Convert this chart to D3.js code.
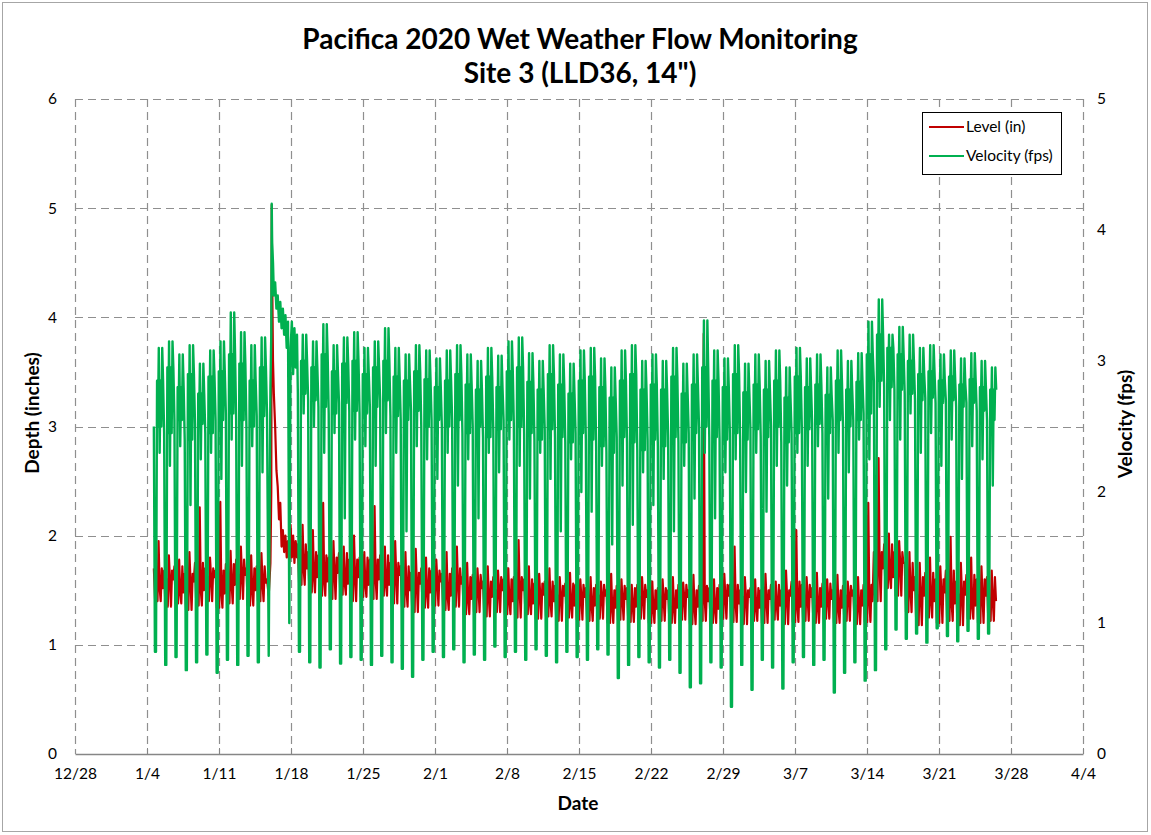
<!DOCTYPE html>
<html>
<head>
<meta charset="utf-8">
<script src="https://cdn.jsdelivr.net/npm/d3@7"></script>
<style>
  body { margin: 0; background: #fff; }
  svg text { font-family: Lato, "Open Sans", sans-serif; fill: #000; }
</style>
</head>
<body>
<svg id="chart" width="1151" height="835"></svg>
<script>
// readings are grouped per day; day d starts at 1/4 16:00 + d days
// each day gives a few typical readings (plateau, peaks, night dip)
const seriesStart = new Date(2020, 0, 4, 16)
const nDays = 82
const stormDay = 11   // 1/15 16:00 .. 1/18 16:00 is read hour by hour below

// velocity (fps)
const velPeak = [3.10, 3.15, 3.05, 3.12, 2.98, 3.08, 3.15, 3.37, 3.22, 3.12, 3.18,
  null, null, null,
  3.20, 3.15, 3.28, 3.12, 3.18, 3.22, 3.10,
  3.15, 3.25, 3.10, 3.05, 3.12, 3.08, 3.02,
  3.08, 3.12, 3.05, 3.00, 3.10, 3.04, 3.15,
  3.18, 3.06, 3.00, 3.12, 3.05, 2.98, 3.08,
  3.10, 3.02, 2.95, 3.08, 3.12, 3.00, 3.05,
  3.00, 3.10, 2.98, 3.05, 3.31, 3.08, 3.02,
  3.12, 2.98, 3.05, 3.00, 3.08, 2.95, 3.10,
  3.02, 3.05, 2.95, 3.08, 3.00, 3.06, 3.30,
  3.47, 3.20, 3.26, 3.20, 3.10, 3.12, 3.05,
  3.08, 3.02, 3.06, 3.00, 2.95]
const velHi2 = [2.85, 2.95, 2.80, 2.90, 2.75, 2.88, 2.92, 3.05, 2.98, 2.85, 2.95,
  null, null, null,
  3.00, 2.95, 3.05, 2.92, 2.98, 3.00, 2.90,
  2.95, 3.00, 2.88, 2.85, 2.92, 2.86, 2.80,
  2.85, 2.90, 2.82, 2.78, 2.88, 2.80, 2.92,
  2.95, 2.84, 2.78, 2.90, 2.82, 2.75, 2.85,
  2.88, 2.80, 2.72, 2.85, 2.90, 2.78, 2.82,
  2.78, 2.88, 2.75, 2.82, 2.95, 2.85, 2.80,
  2.90, 2.76, 2.82, 2.78, 2.85, 2.72, 2.88,
  2.80, 2.82, 2.74, 2.85, 2.78, 2.84, 3.05,
  3.20, 3.10, 3.05, 3.00, 2.90, 2.92, 2.85,
  2.88, 2.82, 2.86, 2.80, 2.78]
const velLow = [2.50, 2.45, 2.55, 2.40, 2.52, 2.45, 2.55, 2.60, 2.55, 2.50, 2.58,
  null, null, null,
  2.75, 2.70, 2.65, 2.60, 2.68, 2.62, 2.60,
  2.65, 2.70, 2.58, 2.55, 2.62, 2.50, 2.55,
  2.50, 2.55, 2.45, 2.50, 2.42, 2.48, 2.55,
  2.50, 2.45, 2.40, 2.48, 2.42, 2.38, 2.45,
  2.40, 2.35, 2.30, 2.42, 2.38, 2.32, 2.40,
  2.35, 2.42, 2.38, 2.45, 2.50, 2.42, 2.40,
  2.45, 2.40, 2.48, 2.42, 2.50, 2.38, 2.45,
  2.48, 2.52, 2.45, 2.55, 2.50, 2.55, 2.60,
  2.85, 2.80, 2.78, 2.75, 2.70, 2.72, 2.68,
  2.70, 2.65, 2.68, 2.62, 2.55]
const velSag = [2.30, 2.20, 2.35, 1.90, 2.25, 2.30, 2.10, 2.40, 2.20, 2.35, 2.15,
  null, null, null,
  2.60, 2.50, 2.30, 2.45, 1.80, 2.40, 2.35,
  2.20, 2.45, 2.30, 1.70, 2.35, 2.25, 2.10,
  2.30, 2.05, 2.25, 1.80, 2.30, 2.15, 2.40,
  2.20, 1.95, 2.30, 2.10, 1.70, 2.25, 2.00,
  1.85, 2.20, 1.60, 2.05, 1.75, 2.15, 1.90,
  2.10, 1.70, 2.20, 1.95, 2.30, 1.80, 2.15,
  2.25, 2.00, 2.30, 1.85, 2.20, 2.05, 2.30,
  2.20, 2.35, 1.95, 2.30, 2.15, 2.40, 2.25,
  2.65, 2.55, 2.40, 2.60, 2.30, 2.45, 2.20,
  2.40, 2.10, 2.35, 2.25, 2.05]
const velDip = [0.78, 0.68, 0.74, 0.64, 0.70, 0.76, 0.62, 0.72, 0.68, 0.75, 0.70,
  null, null, null,
  0.78, 0.70, 0.66, 0.80, 0.69, 0.74, 0.72,
  0.68, 0.75, 0.70, 0.65, 0.59, 0.72, 0.78,
  0.74, 0.80, 0.70, 0.76, 0.72, 0.82, 0.74,
  0.78, 0.72, 0.80, 0.75, 0.70, 0.78, 0.74,
  0.72, 0.80, 0.76, 0.58, 0.68, 0.74, 0.70,
  0.66, 0.72, 0.62, 0.51, 0.54, 0.70, 0.66,
  0.36, 0.68, 0.49, 0.72, 0.66, 0.50, 0.70,
  0.74, 0.68, 0.72, 0.47, 0.62, 0.70, 0.56,
  0.64, 0.80, 0.95, 0.88, 0.92, 0.85, 0.96,
  0.90, 0.86, 0.94, 0.88, 0.92]

// level (in)
const lvlLow = [1.40, 1.35, 1.38, 1.32, 1.36, 1.40, 1.34, 1.38, 1.42, 1.36, 1.40,
  null, null, null,
  1.55, 1.48, 1.45, 1.42, 1.46, 1.40, 1.44,
  1.42, 1.45, 1.38, 1.35, 1.30, 1.34, 1.36,
  1.32, 1.35, 1.28, 1.30, 1.26, 1.30, 1.28,
  1.25, 1.28, 1.24, 1.26, 1.22, 1.25, 1.23,
  1.22, 1.24, 1.20, 1.23, 1.21, 1.24, 1.20,
  1.22, 1.20, 1.23, 1.19, 1.22, 1.20, 1.24,
  1.21, 1.19, 1.22, 1.20, 1.23, 1.19, 1.21,
  1.22, 1.20, 1.24, 1.20, 1.22, 1.19, 1.21,
  1.40, 1.52, 1.45, 1.30, 1.18, 1.25, 1.20,
  1.22, 1.18, 1.24, 1.20, 1.22]
const lvlSec = [1.52, 1.60, 1.48, 1.58, 1.50, 1.62, 1.47, 1.55, 1.64, 1.50, 1.57,
  null, null, null,
  1.70, 1.62, 1.58, 1.66, 1.56, 1.62, 1.55,
  1.60, 1.55, 1.64, 1.50, 1.56, 1.48, 1.58,
  1.45, 1.56, 1.42, 1.52, 1.44, 1.50, 1.40,
  1.50, 1.38, 1.46, 1.40, 1.45, 1.36, 1.44,
  1.36, 1.45, 1.34, 1.42, 1.35, 1.44, 1.33,
  1.42, 1.34, 1.44, 1.35, 1.40, 1.33, 1.45,
  1.38, 1.44, 1.34, 1.42, 1.36, 1.45, 1.35,
  1.44, 1.35, 1.42, 1.34, 1.45, 1.36, 1.40,
  1.70, 1.62, 1.75, 1.50, 1.45, 1.40, 1.48,
  1.38, 1.46, 1.36, 1.45, 1.40]
const lvlMid = [1.70, 1.68, 1.72, 1.65, 1.75, 1.70, 1.68, 1.74, 1.78, 1.70, 1.72,
  null, null, null,
  1.92, 1.85, 1.82, 1.80, 1.84, 1.78, 1.80,
  1.78, 1.82, 1.75, 1.72, 1.66, 1.70, 1.68,
  1.65, 1.70, 1.62, 1.64, 1.58, 1.62, 1.60,
  1.62, 1.60, 1.56, 1.58, 1.54, 1.56, 1.55,
  1.52, 1.55, 1.50, 1.54, 1.52, 1.55, 1.50,
  1.52, 1.50, 1.55, 1.50, 1.54, 1.52, 1.55,
  1.55, 1.50, 1.52, 1.50, 1.55, 1.50, 1.58,
  1.55, 1.52, 1.56, 1.50, 1.54, 1.50, 1.55,
  1.85, 1.92, 1.85, 1.75, 1.62, 1.66, 1.60,
  1.68, 1.58, 1.64, 1.60, 1.62]
const lvlPeak = [1.95, 1.82, 1.78, 1.85, 2.26, 1.80, 2.31, 1.86, 1.90, 1.82, 1.84,
  null, null, null,
  2.10, 2.05, 2.30, 1.95, 1.90, 2.00, 1.85,
  2.27, 1.90, 1.95, 1.85, 1.88, 1.80, 1.78,
  1.85, 1.90, 1.75, 1.70, 1.72, 1.68, 1.70,
  1.96, 1.72, 1.65, 1.70, 1.62, 1.66, 1.60,
  1.62, 1.58, 1.65, 1.60, 1.55, 1.62, 1.58,
  1.60, 1.62, 1.57, 1.64, 3.85, 1.60, 1.65,
  1.90, 1.62, 1.60, 1.65, 1.58, 1.68, 2.05,
  1.62, 1.66, 1.60, 1.64, 1.58, 1.62, 2.30,
  2.71, 2.02, 1.95, 1.85, 1.75, 1.80, 1.72,
  1.99, 1.75, 1.80, 1.72, 1.68]

// storm of 1/16: [hours after 1/15 16:00, value]
const stormLevel = [[0, 1.60], [4, 1.45], [8, 1.75], [10, 2.40], [11, 5.03], [12, 4.40], [14, 3.60],
  [16, 3.30], [19, 3.00], [22, 2.60], [25, 2.45], [28, 2.15], [31, 2.30], [34, 1.90], [37, 2.05],
  [40, 1.85], [43, 2.00], [46, 1.80], [49, 1.95], [52, 1.75], [55, 2.10], [58, 1.80], [61, 2.00],
  [64, 1.75], [67, 1.95], [70, 1.80]]
const stormVelocity = [[0, 2.60], [4, 0.75], [8, 2.80], [10, 3.20], [11, 4.20], [12, 3.90], [14, 3.75],
  [16, 3.50], [19, 3.60], [22, 3.40], [25, 3.50], [28, 3.30], [31, 3.45], [34, 3.25], [37, 3.40],
  [40, 3.20], [43, 3.35], [46, 3.10], [49, 3.30], [52, 1.00], [55, 3.10], [58, 3.30], [61, 2.90],
  [64, 3.25], [67, 2.95], [70, 3.20]]

// hour within each day at which each reading was taken
const velPattern = [[0, velLow], [2.5, velDip], [5, velDip], [7.5, velHi2], [9.5, velLow], [11.5, velPeak],
  [13.5, velSag], [15.5, velHi2], [17.5, velLow], [19.5, velPeak], [21.5, velHi2]]
const lvlPattern = [[0, lvlMid], [3, lvlLow], [6, lvlSec], [8.5, lvlLow], [11, lvlPeak],
  [13.5, lvlSec], [16, lvlLow], [18.5, lvlMid], [21, lvlSec]]

const depthTicks = [0, 1, 2, 3, 4, 5, 6]
const velTicks = [0, 1, 2, 3, 4, 5]

const HOUR = 3600 * 1000
function readings(pattern, storm) {
    let pts = []
    for (let d = 0; d < nDays; d++) {
        if (d === stormDay) {
            storm.forEach(([h, v]) => pts.push({t: new Date(+seriesStart + (d * 24 + h) * HOUR), v: v}))
        }
        if (pattern[0][1][d] == null) continue
        pattern.forEach(([h, arr]) => pts.push({t: new Date(+seriesStart + (d * 24 + h) * HOUR), v: arr[d]}))
    }
    return pts
}
const levelData = readings(lvlPattern, stormLevel)
const velocityData = readings(velPattern, stormVelocity)

const svg = d3.select("#chart")
const plotL = 75, plotR = 1083, plotT = 99, plotB = 754

// outer frame
svg.append("rect")
   .attr("x", 2.5).attr("y", 2.5)
   .attr("width", 1145).attr("height", 829)
   .attr("fill", "#fff")
   .attr("stroke", "#a6a6a6")

const x = d3.scaleTime()
            .domain([new Date(2019, 11, 28), new Date(2020, 3, 4)])
            .range([plotL, plotR])
const yL = d3.scaleLinear().domain([0, 6]).range([plotB, plotT])
const yR = d3.scaleLinear().domain([0, 5]).range([plotB, plotT])

const dateTicks = x.ticks(d3.timeSaturday.every(1))
const fmt = d3.timeFormat("%-m/%-d")

// grid
const grid = svg.append("g").attr("stroke", "#8f8f8f").attr("stroke-width", 1.2)
                .attr("stroke-dasharray", "8,5")
grid.selectAll(".h")
    .data(depthTicks.slice(1))
    .enter().append("line")
    .attr("x1", plotL).attr("x2", plotR)
    .attr("y1", d => Math.round(yL(d)) + 0.5).attr("y2", d => Math.round(yL(d)) + 0.5)
grid.selectAll(".v")
    .data(dateTicks)
    .enter().append("line")
    .attr("x1", d => Math.round(x(d)) + 0.5).attr("x2", d => Math.round(x(d)) + 0.5)
    .attr("y1", plotT).attr("y2", plotB)

// bottom axis
const xAxis = svg.append("g").attr("transform", `translate(0,${plotB})`)
                 .call(d3.axisBottom(x).tickValues(dateTicks).tickFormat(fmt).tickSizeInner(-6).tickSizeOuter(0).tickPadding(14))
xAxis.select(".domain").attr("stroke", "#868686").attr("stroke-width", 1.5)
xAxis.selectAll(".tick line").attr("stroke", "#868686")
xAxis.selectAll("text").style("font-size", "15.5px")
xAxis.selectAll(".tick").filter((d, i) => i === 0).select("line").remove()

// y axes (labels only)
const yAxisL = svg.append("g").attr("transform", `translate(${plotL},0)`)
                  .call(d3.axisLeft(yL).tickValues(depthTicks).tickFormat(d3.format("d")).tickSize(0).tickPadding(18))
yAxisL.select(".domain").remove()
yAxisL.selectAll("text").style("font-size", "15.5px")
const yAxisR = svg.append("g").attr("transform", `translate(${plotR},0)`)
                  .call(d3.axisRight(yR).tickValues(velTicks).tickFormat(d3.format("d")).tickSize(0).tickPadding(14))
yAxisR.select(".domain").remove()
yAxisR.selectAll("text").style("font-size", "15.5px")

// series
svg.append("path")
   .datum(levelData)
   .attr("fill", "none")
   .attr("stroke", "#C00000")
   .attr("stroke-width", 2.2)
   .attr("stroke-linejoin", "round")
   .attr("d", d3.line().x(d => x(d.t)).y(d => yL(d.v)))
svg.append("path")
   .datum(velocityData)
   .attr("fill", "none")
   .attr("stroke", "#00B050")
   .attr("stroke-width", 2.4)
   .attr("stroke-linejoin", "round")
   .attr("d", d3.line().x(d => x(d.t)).y(d => yR(d.v)))

// titles
svg.append("text").attr("x", 580).attr("y", 49).attr("text-anchor", "middle")
   .style("font-size", "28px").style("font-weight", "bold")
   .text("Pacifica 2020 Wet Weather Flow Monitoring")
svg.append("text").attr("x", 580).attr("y", 83).attr("text-anchor", "middle")
   .style("font-size", "28px").style("font-weight", "bold")
   .text('Site 3 (LLD36, 14")')
svg.append("text").attr("x", 578).attr("y", 810).attr("text-anchor", "middle")
   .style("font-size", "19px").style("font-weight", "bold").text("Date")
svg.append("text").attr("transform", "translate(39,413) rotate(-90)").attr("text-anchor", "middle")
   .style("font-size", "19px").style("font-weight", "bold").text("Depth (inches)")
svg.append("text").attr("transform", "translate(1132,424) rotate(-90)").attr("text-anchor", "middle")
   .style("font-size", "19px").style("font-weight", "bold").text("Velocity (fps)")

// legend
const legend = svg.append("g").attr("transform", "translate(922,112)")
legend.append("rect").attr("x", 0.5).attr("y", 0.5).attr("width", 139).attr("height", 62)
      .attr("fill", "#fff").attr("stroke", "#000")
const items = [["Level (in)", "#C00000"], ["Velocity (fps)", "#00B050"]]
items.forEach(([name, color], i) => {
    const g = legend.append("g").attr("transform", `translate(0,${15 + i * 29})`)
    g.append("line").attr("x1", 7).attr("x2", 42).attr("stroke", color).attr("stroke-width", 2.2)
    g.append("text").attr("x", 44).attr("y", 5).style("font-size", "15.5px").text(name)
})
</script>
</body>
</html>
